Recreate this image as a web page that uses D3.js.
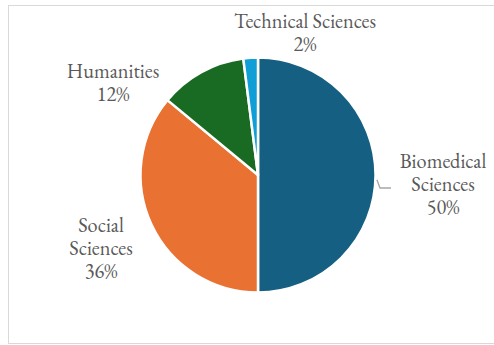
<!DOCTYPE html>
<html>
<head>
<meta charset="utf-8">
<script src="https://cdn.jsdelivr.net/npm/d3@7"></script>
<style>
	html, body { margin: 0; padding: 0; background: #fff; }
	svg { display: block; }
	.lbl { font-family: "EB Garamond", "Liberation Serif", serif; }
</style>
</head>
<body>
<svg id="chart"></svg>
<script>
// data
const categories = ["Biomedical Sciences", "Social Sciences", "Humanities", "Technical Sciences"],
	shares = [50, 36, 12, 2],
	colors = ["#156082", "#e97132", "#196b24", "#0f9ed5"];

// label lines per slice (Excel wraps the long ones)
const labelLines = [["Biomedical", "Sciences"], ["Social", "Sciences"], ["Humanities"], ["Technical Sciences"]];

const params = {
		width: 494,
		height: 345,
		cx: 258,
		cy: 175,
		radius: 117.5,
		font_size: 20.3,
		line_height: 23,
		text_color: "#595959"
	},
	// where Excel put each label block (centre x, first baseline y)
	label_at = [
		{x: 443, y: 168},
		{x: 101, y: 232},
		{x: 113, y: 78},
		{x: 305, y: 28}
	];

const svg = d3.select("#chart")
	.attr("width", params.width)
	.attr("height", params.height);

// chart area border
svg.append("rect")
	.attr("x", 8.5)
	.attr("y", 5.5)
	.attr("width", 500)
	.attr("height", 338)
	.attr("fill", "#fff")
	.attr("stroke", "#d9d9d9")
	.attr("stroke-width", 1);

const pie = d3.pie().sort(null).value(d => d)(shares),
	arc = d3.arc().innerRadius(0).outerRadius(params.radius);

const g = svg.append("g")
	.attr("transform", `translate(${params.cx},${params.cy})`);

g.selectAll("path")
	.data(pie)
	.join("path")
	.attr("d", arc)
	.attr("fill", (d, i) => colors[i])
	.attr("stroke", "#fff")
	.attr("stroke-width", 2.5)
	.attr("stroke-linejoin", "round");

// leader line for the biomedical label
const b = pie[0],
	mid = (b.startAngle + b.endAngle) / 2 + 0.04,
	p0 = [Math.sin(mid) * (params.radius + 1.5), -Math.cos(mid) * (params.radius + 1.5)];
g.append("polyline")
	.attr("points", [p0, [122, 13], [133, 13]].map(p => p.join(",")).join(" "))
	.attr("fill", "none")
	.attr("stroke", "#a6a6a6")
	.attr("stroke-width", 1.3);

// labels
const labels = svg.append("g")
	.attr("class", "lbl")
	.attr("font-size", params.font_size)
	.attr("fill", params.text_color)
	.attr("text-anchor", "middle");

categories.forEach((c, i) => {
	const lines = labelLines[i].concat([shares[i] + "%"]);
	const t = labels.append("text")
		.attr("x", label_at[i].x)
		.attr("y", label_at[i].y);
	lines.forEach((l, j) => {
		t.append("tspan")
			.attr("x", label_at[i].x)
			.attr("dy", j == 0 ? 0 : params.line_height)
			.text(l);
	});
});
</script>
</body>
</html>
